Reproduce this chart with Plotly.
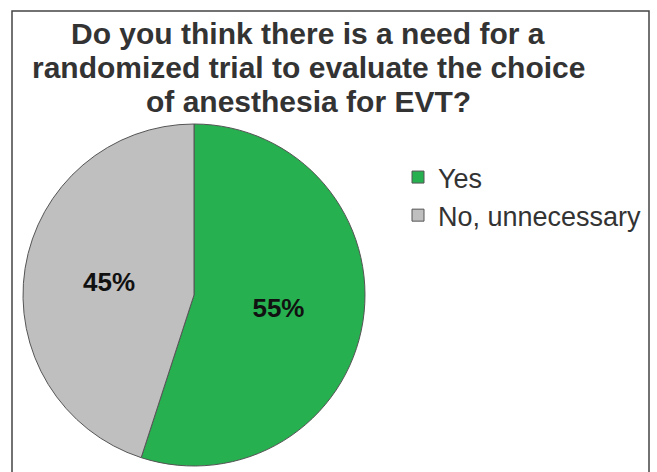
import plotly.graph_objects as go

labels = ["Yes", "No, unnecessary"]
values = [55, 45]
colors = ["#27B050", "#BFBFBF"]
title_lines = ["Do you think there is a need for a",
               "randomized trial to evaluate the choice",
               "of anesthesia for EVT?"]

W, H = 657, 472
cx, cy, r = 194, 295, 171

fig = go.Figure(go.Pie(
    labels=labels, values=values, sort=False, direction="clockwise", rotation=0,
    marker=dict(colors=colors, line=dict(color="#555555", width=1)),
    textinfo="percent", texttemplate="<b>%{percent:.0%}</b>",
    textposition="inside", insidetextorientation="horizontal",
    textfont=dict(family="Liberation Sans, Arial", size=26, color="#111111"),
    domain=dict(x=[(cx - r) / W, (cx + r) / W], y=[1 - (cy + r) / H, 1 - (cy - r) / H]),
    hoverinfo="label+percent",
))

title_centers = [33, 67.5, 102]
annotations = []
for line, yc in zip(title_lines, title_centers):
    annotations.append(dict(text="<b>" + line + "</b>", x=308 / W, y=1 - yc / H,
                            xref="paper", yref="paper", xanchor="center", yanchor="middle",
                            showarrow=False, align="center",
                            font=dict(family="Liberation Sans, Arial", size=30, color="#333333")))

fig.update_layout(
    width=W, height=H,
    margin=dict(l=0, r=0, t=0, b=0),
    paper_bgcolor="white", plot_bgcolor="white",
    showlegend=True,
    legend=dict(x=398 / W, y=1 - 153 / H, xanchor="left", yanchor="top",
                font=dict(family="Liberation Sans, Arial", size=27, color="#333333"),
                bgcolor="rgba(0,0,0,0)"),
    annotations=annotations,
    shapes=[dict(type="rect", xref="paper", yref="paper",
                 x0=12 / W, x1=649 / W, y0=-0.1, y1=1 - 11 / H,
                 line=dict(color="#444444", width=1.5))],
)

fig.write_html("out.html", config={"displayModeBar": False},
               post_script="document.body.style.margin='0';")
